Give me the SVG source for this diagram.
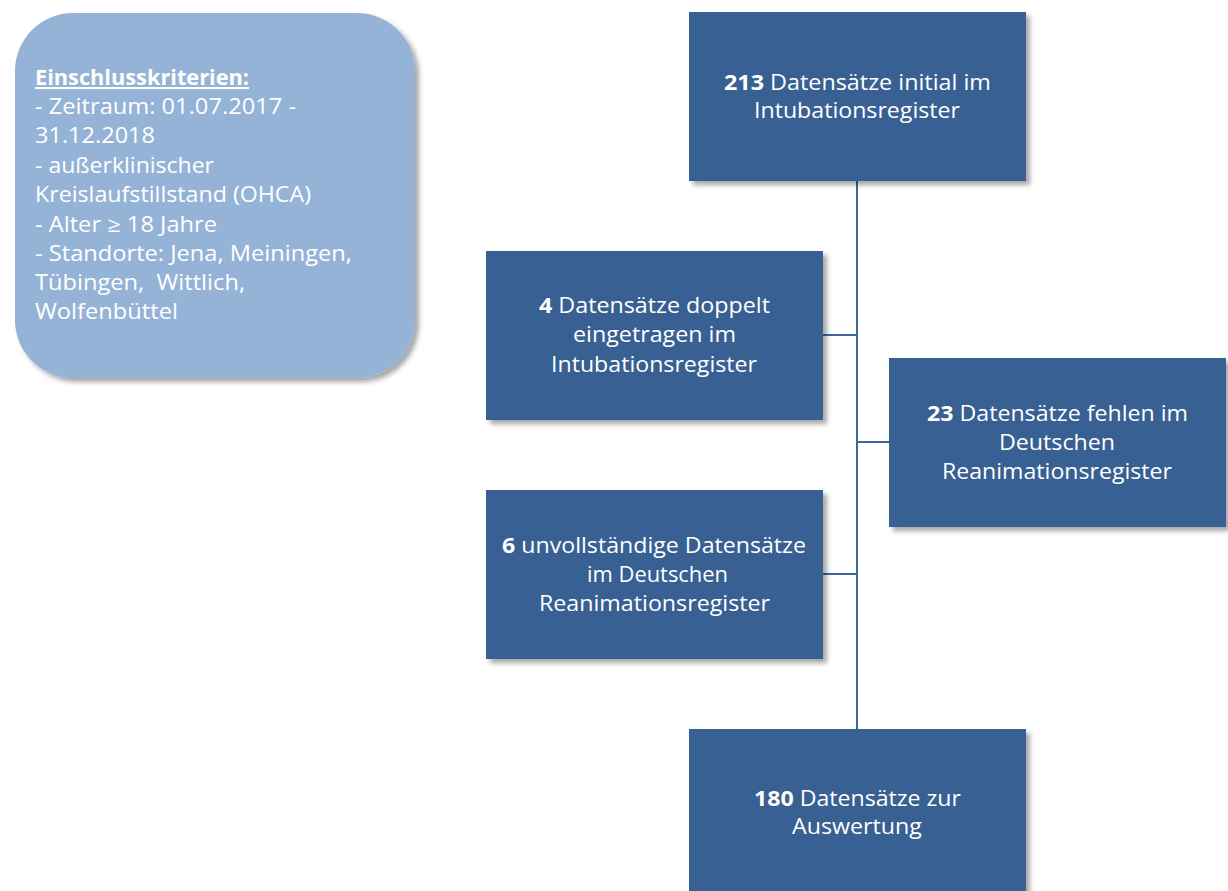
<svg xmlns="http://www.w3.org/2000/svg" width="1228" height="891" viewBox="0 0 1228 891">
<defs>
<filter id="sh" x="-10%" y="-10%" width="130%" height="130%">
<feDropShadow dx="4" dy="4" stdDeviation="2.5" flood-color="#000" flood-opacity="0.35"/>
</filter>
<style>
.box{fill:#376092;filter:url(#sh)}
.crit{fill:#95B3D7;filter:url(#sh)}
.t{font-family:"Open Sans","Noto Sans","Liberation Sans",sans-serif;font-size:22px;fill:#fff;text-anchor:middle}
.l{font-family:"Open Sans","Noto Sans","Liberation Sans",sans-serif;font-size:21px;fill:#fff}
.b{font-weight:bold}
.c{stroke:#41689A;stroke-width:2;fill:none}
</style>
</defs>
<rect width="1228" height="891" fill="#fff"/>
<g id="connectors">
<line class="c" x1="857" y1="181" x2="857" y2="729"/>
<line class="c" x1="823" y1="335" x2="857" y2="335"/>
<line class="c" x1="857" y1="442" x2="889" y2="442"/>
<line class="c" x1="823" y1="574" x2="857" y2="574"/>
</g>
<g id="criteria">
<rect class="crit" x="15" y="13" width="400" height="365" rx="58" ry="58"/>
<text class="l" x="35" y="85" textLength="214" lengthAdjust="spacingAndGlyphs" font-weight="bold" text-decoration="underline">Einschlusskriterien:</text>
<text class="l" x="35" y="114" textLength="261" lengthAdjust="spacingAndGlyphs">- Zeitraum: 01.07.2017 -</text>
<text class="l" x="35" y="143" textLength="120" lengthAdjust="spacingAndGlyphs">31.12.2018</text>
<text class="l" x="35" y="173" textLength="179" lengthAdjust="spacingAndGlyphs">- außerklinischer</text>
<text class="l" x="35" y="202" textLength="276" lengthAdjust="spacingAndGlyphs">Kreislaufstillstand (OHCA)</text>
<text class="l" x="35" y="232" textLength="182" lengthAdjust="spacingAndGlyphs">- Alter ≥ 18 Jahre</text>
<text class="l" x="35" y="261" textLength="317" lengthAdjust="spacingAndGlyphs">- Standorte: Jena, Meiningen,</text>
<text class="l" x="35" y="290" textLength="210" lengthAdjust="spacingAndGlyphs" xml:space="preserve">Tübingen,  Wittlich,</text>
<text class="l" x="35" y="319" textLength="143" lengthAdjust="spacingAndGlyphs">Wolfenbüttel</text>
</g>
<g id="n213">
<rect class="box" x="689" y="12" width="337" height="169"/>
<text class="t" x="857.5" y="90" textLength="267" lengthAdjust="spacingAndGlyphs"><tspan class="b">213</tspan> Datensätze initial im</text>
<text class="t" x="857" y="118" textLength="206" lengthAdjust="spacingAndGlyphs">Intubationsregister</text>
</g>
<g id="n4">
<rect class="box" x="486" y="251" width="337" height="169"/>
<text class="t" x="654.5" y="313" textLength="231" lengthAdjust="spacingAndGlyphs"><tspan class="b">4</tspan> Datensätze doppelt</text>
<text class="t" x="654.5" y="342" textLength="163" lengthAdjust="spacingAndGlyphs">eingetragen im</text>
<text class="t" x="654" y="372" textLength="206" lengthAdjust="spacingAndGlyphs">Intubationsregister</text>
</g>
<g id="n23">
<rect class="box" x="889" y="358" width="337" height="169"/>
<text class="t" x="1057.5" y="421" textLength="261" lengthAdjust="spacingAndGlyphs"><tspan class="b">23</tspan> Datensätze fehlen im</text>
<text class="t" x="1057" y="450" textLength="116" lengthAdjust="spacingAndGlyphs">Deutschen</text>
<text class="t" x="1057" y="479" textLength="230" lengthAdjust="spacingAndGlyphs">Reanimationsregister</text>
</g>
<g id="n6">
<rect class="box" x="486" y="490" width="337" height="169"/>
<text class="t" x="654" y="553" textLength="304" lengthAdjust="spacingAndGlyphs"><tspan class="b">6</tspan> unvollständige Datensätze</text>
<text class="t" x="657.5" y="582" textLength="141" lengthAdjust="spacingAndGlyphs">im Deutschen</text>
<text class="t" x="654.5" y="611" textLength="231" lengthAdjust="spacingAndGlyphs">Reanimationsregister</text>
</g>
<g id="n180">
<rect class="box" x="689" y="729" width="337" height="169"/>
<text class="t" x="857.5" y="806" textLength="207" lengthAdjust="spacingAndGlyphs"><tspan class="b">180</tspan> Datensätze zur</text>
<text class="t" x="857" y="834" textLength="130" lengthAdjust="spacingAndGlyphs">Auswertung</text>
</g>
</svg>
